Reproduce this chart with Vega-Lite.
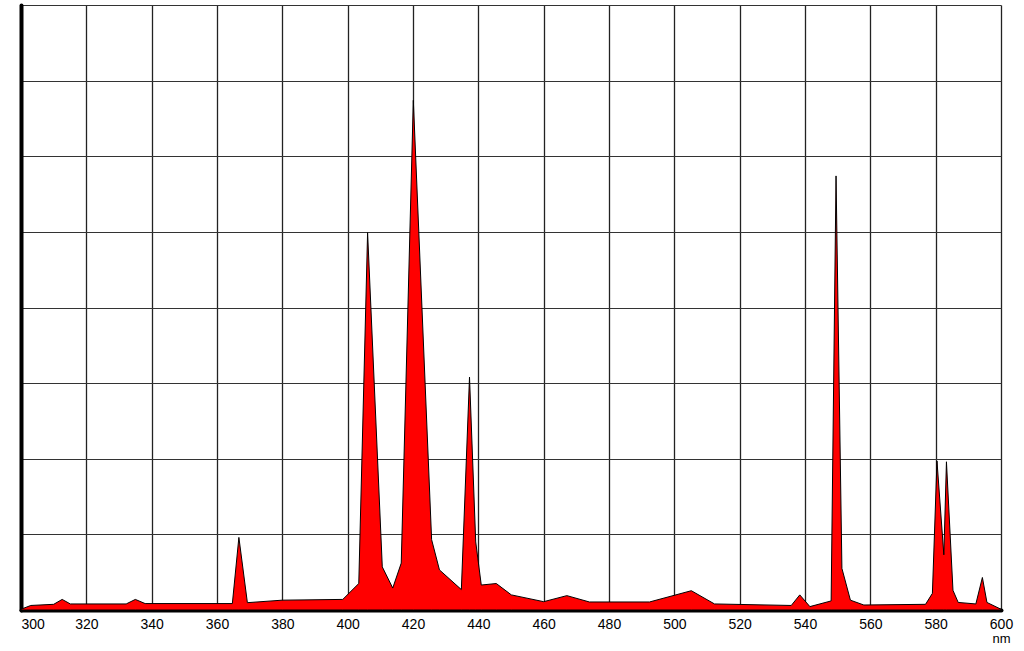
{
  "$schema": "https://vega.github.io/schema/vega-lite/v6.json",
  "autosize": "none",
  "width": 980,
  "height": 605,
  "padding": {"left": 21, "top": 5, "right": 23, "bottom": 41},
  "background": "white",
  "config": {"view": {"stroke": null}, "font": "Liberation Sans"},
  "data": {"values": [
    {"nm": 300, "v": 0.01},
    {"nm": 303, "v": 0.06},
    {"nm": 310, "v": 0.075},
    {"nm": 312.6, "v": 0.14},
    {"nm": 315.1, "v": 0.08},
    {"nm": 332.2, "v": 0.08},
    {"nm": 335, "v": 0.14},
    {"nm": 338, "v": 0.085},
    {"nm": 364.7, "v": 0.085},
    {"nm": 366.7, "v": 0.96},
    {"nm": 369.3, "v": 0.097},
    {"nm": 380, "v": 0.13},
    {"nm": 398.5, "v": 0.14},
    {"nm": 403.4, "v": 0.35},
    {"nm": 406.1, "v": 4.99},
    {"nm": 410.6, "v": 0.57},
    {"nm": 413.8, "v": 0.29},
    {"nm": 416.4, "v": 0.62},
    {"nm": 420.1, "v": 6.74},
    {"nm": 425.7, "v": 0.93},
    {"nm": 428.1, "v": 0.53},
    {"nm": 434.8, "v": 0.27},
    {"nm": 437.3, "v": 3.08},
    {"nm": 439.2, "v": 0.9},
    {"nm": 440.9, "v": 0.33},
    {"nm": 445.5, "v": 0.35},
    {"nm": 450.1, "v": 0.2},
    {"nm": 460, "v": 0.11},
    {"nm": 467.1, "v": 0.19},
    {"nm": 474, "v": 0.106},
    {"nm": 492.4, "v": 0.106},
    {"nm": 505.2, "v": 0.255},
    {"nm": 512.3, "v": 0.08},
    {"nm": 535.8, "v": 0.06},
    {"nm": 538.4, "v": 0.2},
    {"nm": 541.5, "v": 0.045},
    {"nm": 548, "v": 0.12},
    {"nm": 549.5, "v": 5.74},
    {"nm": 551.3, "v": 0.55},
    {"nm": 553.9, "v": 0.13},
    {"nm": 558, "v": 0.066},
    {"nm": 576.9, "v": 0.075},
    {"nm": 579, "v": 0.22},
    {"nm": 580.4, "v": 1.97},
    {"nm": 582.5, "v": 0.73},
    {"nm": 583.3, "v": 1.96},
    {"nm": 585.3, "v": 0.26},
    {"nm": 586.9, "v": 0.1},
    {"nm": 592.3, "v": 0.08},
    {"nm": 594.3, "v": 0.43},
    {"nm": 595.7, "v": 0.1},
    {"nm": 600, "v": 0.01}
  ]},
  "mark": {"type": "area", "color": "#ff0000", "fill": "#ff0000", "stroke": "#000000", "strokeWidth": 1, "interpolate": "linear"},
  "encoding": {
    "x": {
      "field": "nm", "type": "quantitative",
      "scale": {"domain": [300, 600], "nice": false, "zero": false},
      "axis": {
        "values": [300, 320, 340, 360, 380, 400, 420, 440, 460, 480, 500, 520, 540, 560, 580, 600],
        "title": "nm",
        "titleX": 980, "titleY": 22, "titleAlign": "center", "titleBaseline": "top",
        "titleFontSize": 13, "titleFontWeight": "normal", "titleColor": "#000",
        "labelFontSize": 14, "labelColor": "#000", "labelPadding": 7,
        "labelAlign": {"condition": {"test": "datum.value == 300", "value": "left"}, "value": "center"},
        "labelFlush": false, "labelOverlap": false,
        "ticks": false,
        "domain": true, "domainColor": "#000", "domainWidth": 4, "domainCap": "round",
        "grid": true, "gridColor": "#222", "gridWidth": 1.3, "gridOpacity": 1
      }
    },
    "y": {
      "field": "v", "type": "quantitative",
      "scale": {"domain": [0, 8], "nice": false},
      "axis": {
        "values": [0, 1, 2, 3, 4, 5, 6, 7, 8],
        "title": null, "labels": false, "ticks": false,
        "domain": true, "domainColor": "#000", "domainWidth": 4, "domainCap": "round",
        "grid": true, "gridColor": "#333", "gridWidth": 1.2, "gridOpacity": 1
      }
    }
  }
}
